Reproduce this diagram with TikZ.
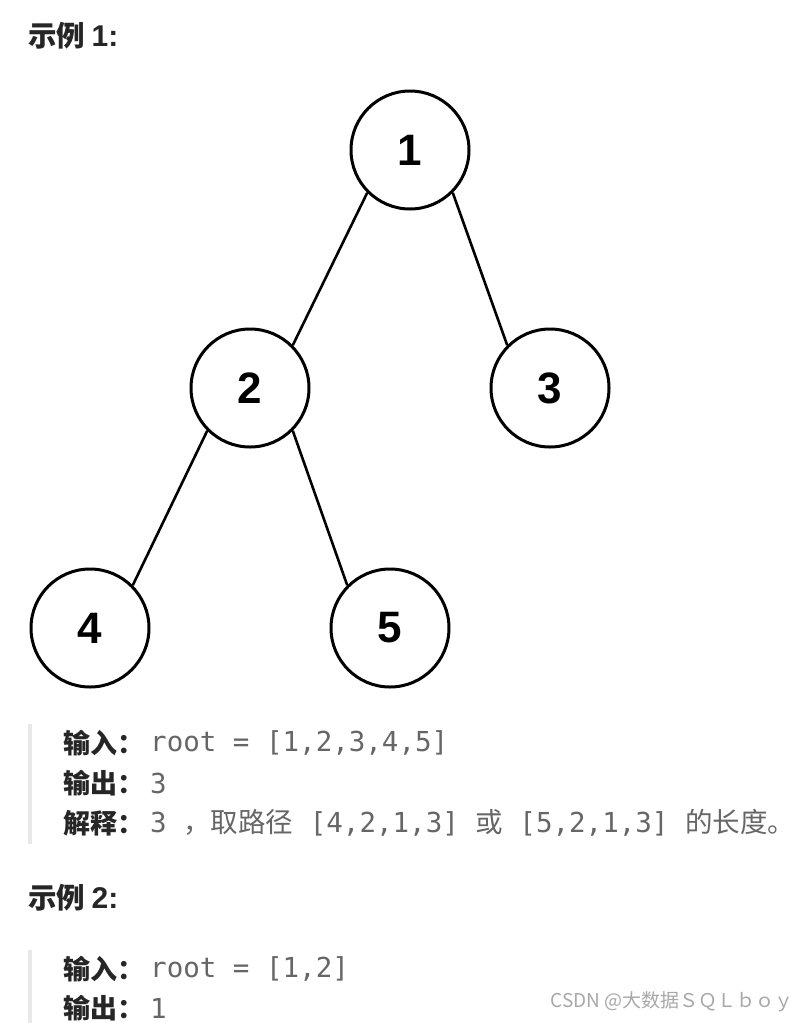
\documentclass[tikz,border=0pt]{standalone}
\usepackage{fontspec}
\setmainfont{Liberation Sans}
\newfontfamily\cjk{Noto Sans CJK SC}
\newfontfamily\mono{DejaVu Sans Mono}
\newfontfamily\numfont{Liberation Sans}
\definecolor{headc}{HTML}{262626}
\definecolor{bodyc}{HTML}{666666}
\definecolor{barc}{HTML}{E8E8E8}
\definecolor{wmc}{HTML}{A8A8A8}
\begin{document}
\begin{tikzpicture}[x=1pt,y=-1pt,
  treenode/.style={circle,draw=black,line width=3pt,minimum size=118pt,inner sep=0pt,
    font=\numfont\bfseries\fontsize{44}{44}\selectfont,fill=white},
  edge/.style={line width=2.6pt,black},
  heading/.style={anchor=west,inner sep=0pt,text=headc,font=\cjk\bfseries\fontsize{28.5}{28.5}\selectfont},
  label/.style={anchor=west,inner sep=0pt,text=headc,font=\cjk\bfseries\fontsize{27}{27}\selectfont},
  body/.style={anchor=west,inner sep=0pt,text=bodyc,font=\mono\fontsize{27.5}{27.5}\selectfont},
  quotebar/.style={fill=barc,draw=none}]
\useasboundingbox (0,0) rectangle (809,1023);
\fill[white] (0,0) rectangle (809,1023);
% heading 1
\node[heading] (h1) at (28,36) {示例 {\numfont\bfseries\fontsize{30}{30}\selectfont 1:}};
% tree
\begin{scope}
\clip (0,70) rectangle (611,700);
\node[treenode] (n1) at (410,150) {1};
\node[treenode] (n2) at (250,388) {2};
\node[treenode] (n3) at (550,388) {3};
\node[treenode] (n4) at (90,628) {4};
\node[treenode] (n5) at (390,628) {5};
\draw[edge] (n1.-135) -- (n2.45);
\draw[edge] (n1.-45) -- (n3.135);
\draw[edge] (n2.-135) -- (n4.45);
\draw[edge] (n2.-45) -- (n5.135);
\end{scope}
% example 1 text
\fill[quotebar] (28,724) rectangle (32,844);
\node[label] (l1) at (63,743) {输入：};
\node[body] (b1) at (150,743) {root = [1,2,3,4,5]};
\node[label] (l2) at (63,783) {输出：};
\node[body] (b2) at (150,783) {3};
\node[label] (l3) at (63,823) {解释：};
\node[body] (b3) at (150,823) {3 {\cjk ，取路径} [4,2,1,3] {\cjk 或} [5,2,1,3] {\cjk 的长度。}};
% heading 2
\node[heading] (h2) at (28,898) {示例 {\numfont\bfseries\fontsize{30}{30}\selectfont 2:}};
\fill[quotebar] (28,950) rectangle (32,1023);
\node[label] (l4) at (63,969) {输入：};
\node[body] (b4) at (150,969) {root = [1,2]};
\node[label] (l5) at (63,1008) {输出：};
\node[body] (b5) at (150,1008) {1};
% watermark
\node[anchor=east,inner sep=0pt,text=wmc,font=\cjk\fontsize{19}{19}\selectfont] (wm) at (794,1002) {CSDN @大数据ＳＱＬｂｏｙ};
\end{tikzpicture}
\end{document}
